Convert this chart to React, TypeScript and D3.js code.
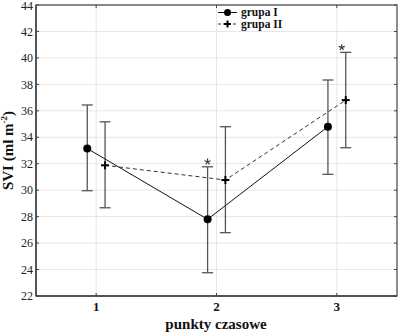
import React from "react";
import * as d3 from "d3";

const categories = [1, 2, 3];
const groupIMean = [33.15, 27.8, 34.8];
const groupIUpper = [36.44, 31.77, 38.33];
const groupILower = [29.96, 23.76, 31.2];
const groupIIMean = [31.88, 30.77, 36.81];
const groupIIUpper = [35.17, 34.8, 40.42];
const groupIILower = [28.67, 26.79, 33.21];
const yTicks = [22, 24, 26, 28, 30, 32, 34, 36, 38, 40, 42, 44];
const starsI = [false, true, false];
const starsII = [false, false, true];
const seriesNames = ["grupa I", "grupa II"];

const W = 400, H = 332;
const L = 36, R = 397, T = 5, B = 296;
const font = "'Liberation Serif', 'Times New Roman', serif";

export default function App() {
  const x = d3.scaleLinear().domain([0.5, 3.5]).range([L, R]);
  const y = d3.scaleLinear().domain([22, 44]).range([B, T]);
  const off = 0.074;
  const xI = (c: number) => x(c - off);
  const xII = (c: number) => x(c + off);
  const lineI = d3.line<number>().x((_, i) => xI(categories[i])).y((d) => y(d));
  const lineII = d3.line<number>().x((_, i) => xII(categories[i])).y((d) => y(d));
  const errColor = "#555";
  const cap = 5.5;

  const errBar = (cx: number, lo: number, hi: number, key: string) => (
    <g key={key} stroke={errColor} strokeWidth={1.3}>
      <line x1={cx} x2={cx} y1={y(lo)} y2={y(hi)} />
      <line x1={cx - cap} x2={cx + cap} y1={y(lo)} y2={y(lo)} />
      <line x1={cx - cap} x2={cx + cap} y1={y(hi)} y2={y(hi)} />
    </g>
  );

  const plus = (cx: number, cy: number, key: string, s = 4) => (
    <g key={key} stroke="#000" strokeWidth={2}>
      <line x1={cx - s} x2={cx + s} y1={cy} y2={cy} />
      <line x1={cx} x2={cx} y1={cy - s} y2={cy + s} />
    </g>
  );

  const star = (cx: number, cy: number, key: string) => {
    const r = 3.2;
    const angs = [90, 90 + 72, 90 + 144, 90 + 216, 90 + 288];
    return (
      <g key={key} stroke="#333" strokeWidth={1.1}>
        {angs.map((a) => {
          const rad = (a * Math.PI) / 180;
          return <line key={a} x1={cx} y1={cy} x2={cx + r * Math.cos(rad)} y2={cy - r * Math.sin(rad)} />;
        })}
      </g>
    );
  };

  return (
    <svg width={W} height={H} style={{ position: "absolute", left: 0, top: 0 }} fontFamily={font}>
      <rect x={0} y={0} width={W} height={H} fill="#fff" />
      {/* grid */}
      {yTicks.map((t) => (
        <line key={"gy" + t} x1={L} x2={R} y1={y(t)} y2={y(t)} stroke="#e6e6e6" strokeWidth={1} />
      ))}
      {categories.map((c) => (
        <line key={"gx" + c} x1={x(c)} x2={x(c)} y1={T} y2={B} stroke="#e6e6e6" strokeWidth={1} />
      ))}
      {/* frame */}
      <rect x={L} y={T} width={R - L} height={B - T} fill="none" stroke="#444" strokeWidth={1.2} />
      <line x1={L} x2={L} y1={T} y2={B} stroke="#555" strokeWidth={2} />
      <line x1={L} x2={R} y1={B} y2={B} stroke="#444" strokeWidth={1.5} />
      {/* ticks */}
      {yTicks.map((t) => (
        <g key={"ty" + t}>
          <line x1={L} x2={L + 3} y1={y(t)} y2={y(t)} stroke="#444" />
          <line x1={R} x2={R - 3} y1={y(t)} y2={y(t)} stroke="#444" />
          <text x={L - 3} y={Math.max(y(t), 6)} dy="0.35em" textAnchor="end" fontSize={12} fill="#222">
            {t}
          </text>
        </g>
      ))}
      {categories.map((c) => (
        <g key={"tx" + c}>
          <line x1={x(c)} x2={x(c)} y1={B} y2={B - 3} stroke="#444" />
          <line x1={x(c)} x2={x(c)} y1={T} y2={T + 3} stroke="#444" />
          <text x={x(c)} y={B + 15} textAnchor="middle" fontSize={13} fontWeight="bold" fill="#111">
            {c}
          </text>
        </g>
      ))}
      {/* axis titles */}
      <text x={216} y={329} textAnchor="middle" fontSize={15} fontWeight="bold" fill="#111">
        punkty czasowe
      </text>
      <text
        transform={`translate(13,${(T + B) / 2}) rotate(-90)`}
        textAnchor="middle"
        fontSize={15}
        fontWeight="bold"
        fill="#111"
      >
        SVI (ml m<tspan fontSize={9} dy={-6}>-2</tspan>
        <tspan dy={6}>)</tspan>
      </text>
      {/* error bars */}
      {categories.map((c, i) => errBar(xI(c), groupILower[i], groupIUpper[i], "eI" + i))}
      {categories.map((c, i) => errBar(xII(c), groupIILower[i], groupIIUpper[i], "eII" + i))}
      {/* lines */}
      <path d={lineI(groupIMean) || ""} fill="none" stroke="#111" strokeWidth={1} />
      <path d={lineII(groupIIMean) || ""} fill="none" stroke="#333" strokeWidth={1} strokeDasharray="4,3" />
      {/* markers */}
      {categories.map((c, i) => (
        <circle key={"mI" + i} cx={xI(c)} cy={y(groupIMean[i])} r={4} fill="#000" />
      ))}
      {categories.map((c, i) => plus(xII(c), y(groupIIMean[i]), "mII" + i))}
      {/* stars */}
      {categories.map((c, i) => (starsI[i] ? star(xI(c), y(groupIUpper[i]) - 5, "sI" + i) : null))}
      {categories.map((c, i) => (starsII[i] ? star(xII(c) - 4, y(groupIIUpper[i]) - 5, "sII" + i) : null))}
      {/* legend */}
      <g>
        <line x1={218} x2={237} y1={12.5} y2={12.5} stroke="#111" />
        <circle cx={227.5} cy={12.5} r={3.5} fill="#000" />
        <text x={241} y={12.5} dy="0.33em" fontSize={11.5} fontWeight="bold" fill="#111">
          {seriesNames[0]}
        </text>
        <line x1={218} x2={237} y1={24} y2={24} stroke="#333" strokeDasharray="3,2" />
        {plus(227.5, 24, "lg", 3.5)}
        <text x={241} y={24} dy="0.33em" fontSize={11.5} fontWeight="bold" fill="#111">
          {seriesNames[1]}
        </text>
      </g>
    </svg>
  );
}
